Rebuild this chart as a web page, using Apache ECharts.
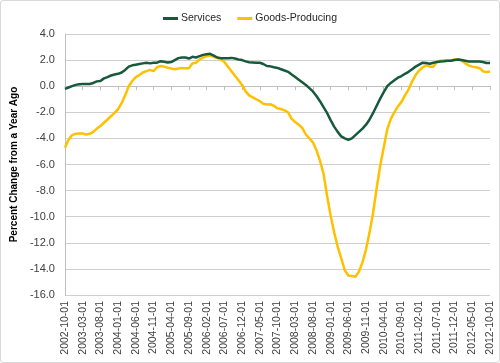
<!DOCTYPE html>
<html>
<head>
<meta charset="utf-8">
<script src="https://cdn.jsdelivr.net/npm/echarts@6/dist/echarts.min.js"></script>
<style>
html,body{margin:0;padding:0;background:#fff;}
#chart{width:498px;height:361px;border:1px solid #d9d9d9;border-radius:3px;}
</style>
</head>
<body>
<div id="chart"></div>
<script>
// Monthly categories 2002-10 .. 2012-10
const startYear = 2002, startMonth = 10, monthCount = 121;
const categories = [];
for (let k = 0; k < monthCount; k++) {
  const m = startMonth - 1 + k;
  const y = startYear + Math.floor(m / 12);
  const mm = (m % 12) + 1;
  categories.push(y + '-' + (mm < 10 ? '0' + mm : mm) + '-01');
}

const services = [
  -0.2, -0.1, 0.0, 0.1, 0.15, 0.17, 0.17, 0.17, 0.25, 0.37,
  0.4, 0.6, 0.7, 0.82, 0.9, 0.95, 1.05, 1.25, 1.5, 1.6,
  1.65, 1.7, 1.75, 1.8, 1.75, 1.8, 1.8, 1.92, 1.88, 1.82,
  1.85, 2.0, 2.15, 2.2, 2.2, 2.12, 2.25, 2.2, 2.3, 2.4,
  2.45, 2.48, 2.35, 2.2, 2.15, 2.15, 2.15, 2.17, 2.12, 2.05,
  2.0, 1.9, 1.83, 1.82, 1.8, 1.8, 1.7, 1.55, 1.52, 1.45,
  1.4, 1.3, 1.2, 1.1, 0.9, 0.7, 0.5, 0.3, 0.1, -0.15,
  -0.4, -0.75, -1.15, -1.6, -2.05, -2.6, -3.1, -3.5, -3.85, -4.0,
  -4.1, -4.0, -3.75, -3.5, -3.25, -2.95, -2.55, -2.05, -1.5, -0.95,
  -0.45, 0.0, 0.25, 0.45, 0.65, 0.78, 0.95, 1.1, 1.3, 1.5,
  1.65, 1.8, 1.78, 1.72, 1.8, 1.85, 1.9, 1.92, 1.95, 1.95,
  2.0, 2.05, 2.0, 1.95, 1.9, 1.9, 1.9, 1.9, 1.85, 1.78,
  1.77
];

const goods = [
  -4.72, -4.1, -3.75, -3.65, -3.63, -3.62, -3.7, -3.65, -3.5, -3.25,
  -3.05, -2.8, -2.55, -2.3, -2.05, -1.75, -1.3, -0.7, 0.0, 0.4,
  0.7, 0.85, 1.05, 1.15, 1.25, 1.15, 1.45, 1.55, 1.5, 1.42,
  1.35, 1.3, 1.35, 1.4, 1.38, 1.38, 1.75, 1.8, 2.05, 2.2,
  2.3, 2.35, 2.25, 2.15, 2.05, 1.85, 1.5, 1.15, 0.8, 0.45,
  0.1, -0.4, -0.7, -0.85, -1.0, -1.15, -1.35, -1.4, -1.38, -1.5,
  -1.7, -1.75, -1.85, -2.0, -2.5, -2.75, -2.95, -3.2, -3.7, -4.0,
  -4.3, -4.9, -5.7, -6.7, -8.4, -9.9, -11.2, -12.3, -13.2, -14.1,
  -14.5, -14.55, -14.6, -14.2, -13.5, -12.5, -11.2, -9.7, -7.8, -6.1,
  -4.7, -3.3, -2.5, -2.0, -1.55, -1.2, -0.7, -0.25, 0.35, 0.85,
  1.2, 1.45, 1.6, 1.5, 1.5, 1.85, 1.95, 1.98, 1.95, 1.97,
  2.05, 2.07, 1.95, 1.75, 1.6, 1.5, 1.45, 1.4, 1.15, 1.08,
  1.12
];

const seriesNames = ['Services', 'Goods-Producing'];
const yAxisTitle = 'Percent Change from a Year Ago';

const chart = echarts.init(document.getElementById('chart'), null, {renderer: 'canvas'});
const font = 'Liberation Sans, Arial, sans-serif';
chart.setOption({
  animation: false,
  textStyle: {fontFamily: font},
  legend: {
    top: 7,
    left: 'center',
    itemWidth: 15,
    itemHeight: 3,
    itemGap: 16,
    icon: 'rect',
    textStyle: {fontSize: 10.5, color: '#262626', fontFamily: font, padding: [0, 0, 0, -2]},
    data: seriesNames
  },
  grid: {left: 61, right: 9, top: 33, bottom: 67, containLabel: false},
  xAxis: {
    type: 'category',
    data: categories,
    boundaryGap: false,
    axisLine: {lineStyle: {color: '#bfbfbf', width: 1}},
    axisTick: {show: true, interval: 4, length: 4, lineStyle: {color: '#bfbfbf'}},
    axisLabel: {interval: 4, rotate: 90, fontSize: 10.5, color: '#404040', margin: 6, fontFamily: font},
    splitLine: {show: false}
  },
  yAxis: {
    type: 'value',
    min: -16,
    max: 4,
    interval: 2,
    name: yAxisTitle,
    nameLocation: 'middle',
    nameGap: 43,
    nameTextStyle: {fontSize: 10, fontWeight: 'bold', color: '#000', fontFamily: font},
    axisLine: {show: true, lineStyle: {color: '#bfbfbf'}},
    axisTick: {show: false},
    axisLabel: {formatter: v => v.toFixed(1), fontSize: 11, color: '#404040', margin: 10, fontFamily: font},
    splitLine: {lineStyle: {color: '#cfcfcf', width: 1}}
  },
  series: [
    {
      name: seriesNames[0], type: 'line', data: services, symbol: 'none',
      lineStyle: {color: '#175a3b', width: 2.5}, itemStyle: {color: '#175a3b'}, z: 3
    },
    {
      name: seriesNames[1], type: 'line', data: goods, symbol: 'none',
      lineStyle: {color: '#ffc000', width: 2.5}, itemStyle: {color: '#ffc000'}, z: 2
    }
  ]
});
</script>
</body>
</html>
